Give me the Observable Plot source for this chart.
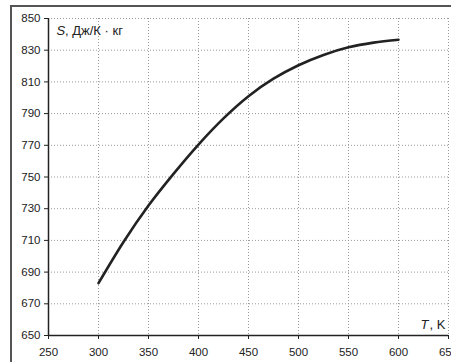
<!DOCTYPE html>
<html>
<head>
<meta charset="utf-8">
<script src="https://cdn.jsdelivr.net/npm/d3@7"></script>
<script src="https://cdn.jsdelivr.net/npm/@observablehq/plot@0.6"></script>
<style>
  html, body { margin: 0; padding: 0; background: #fff; overflow: hidden; }
  #wrap { position: relative; width: 451px; height: 362px; overflow: hidden; }
  #border { position: absolute; left: 10px; top: 5px; width: 470px; height: 400px; border: 2px solid #555; box-sizing: border-box; pointer-events: none; }
  #chart { position: absolute; left: 0; top: 0; }
</style>
</head>
<body>
<div id="wrap"><div id="chart"></div><div id="border"></div></div>
<script>
const temperatures = [300, 325, 350, 375, 400, 425, 450, 475, 500, 525, 550, 575, 600];
const entropy = [683, 709, 732, 752, 770.5, 787, 801, 812, 820.5, 827, 831.8, 834.8, 836.6];
const xTicks = [250, 300, 350, 400, 450, 500, 550, 600, 650];
const yTicks = [650, 670, 690, 710, 730, 750, 770, 790, 810, 830, 850];

const data = temperatures.map((t, i) => ({T: t, S: entropy[i]}));
const font = "Liberation Sans, Arial, Helvetica, sans-serif";
const ink = "#222";

const chart = Plot.plot({
  width: 451,
  height: 362,
  marginLeft: 48,
  marginTop: 18,
  marginBottom: 27,
  marginRight: 3,
  style: {fontFamily: font, fontSize: "11.5px", color: ink, background: "transparent"},
  x: {domain: [250, 650], ticks: xTicks, label: null},
  y: {domain: [650, 850], ticks: yTicks, label: null},
  marks: [
    Plot.gridX(xTicks.slice(1), {stroke: "#999", strokeOpacity: 1, strokeDasharray: "1,2", strokeWidth: 1}),
    Plot.gridY(yTicks.slice(1), {stroke: "#999", strokeOpacity: 1, strokeDasharray: "1,2", strokeWidth: 1}),
    Plot.axisX({ticks: xTicks, tickSize: 4, tickPadding: 8, stroke: ink, fill: ink, label: null, tickFormat: d => String(d)}),
    Plot.axisY({ticks: yTicks, tickSize: 4, tickPadding: 4, stroke: ink, fill: ink, label: null, tickFormat: d => String(d)}),
    Plot.ruleX([250], {stroke: ink, strokeWidth: 1.5}),
    Plot.ruleY([650], {stroke: ink, strokeWidth: 1.5}),
    Plot.line(data, {x: "T", y: "S", stroke: ink, strokeWidth: 2.6, curve: "monotone-x"}),
    Plot.text(["S"], {frameAnchor: "top-left", text: d => d, dx: 8, dy: 7, lineAnchor: "top", textAnchor: "start", fontSize: 13, fontStyle: "italic", fill: ink}),
    Plot.text([", Дж/К · кг"], {frameAnchor: "top-left", text: d => d, dx: 16.5, dy: 7, lineAnchor: "top", textAnchor: "start", fontSize: 13, fill: ink}),
    Plot.text([", K"], {frameAnchor: "bottom-right", text: d => d, dx: -3, dy: -7, lineAnchor: "bottom", textAnchor: "end", fontSize: 13, fill: ink}),
    Plot.text(["T"], {frameAnchor: "bottom-right", text: d => d, dx: -20, dy: -7, lineAnchor: "bottom", textAnchor: "end", fontSize: 13, fontStyle: "italic", fill: ink})
  ]
});
document.getElementById("chart").appendChild(chart);
</script>
</body>
</html>
